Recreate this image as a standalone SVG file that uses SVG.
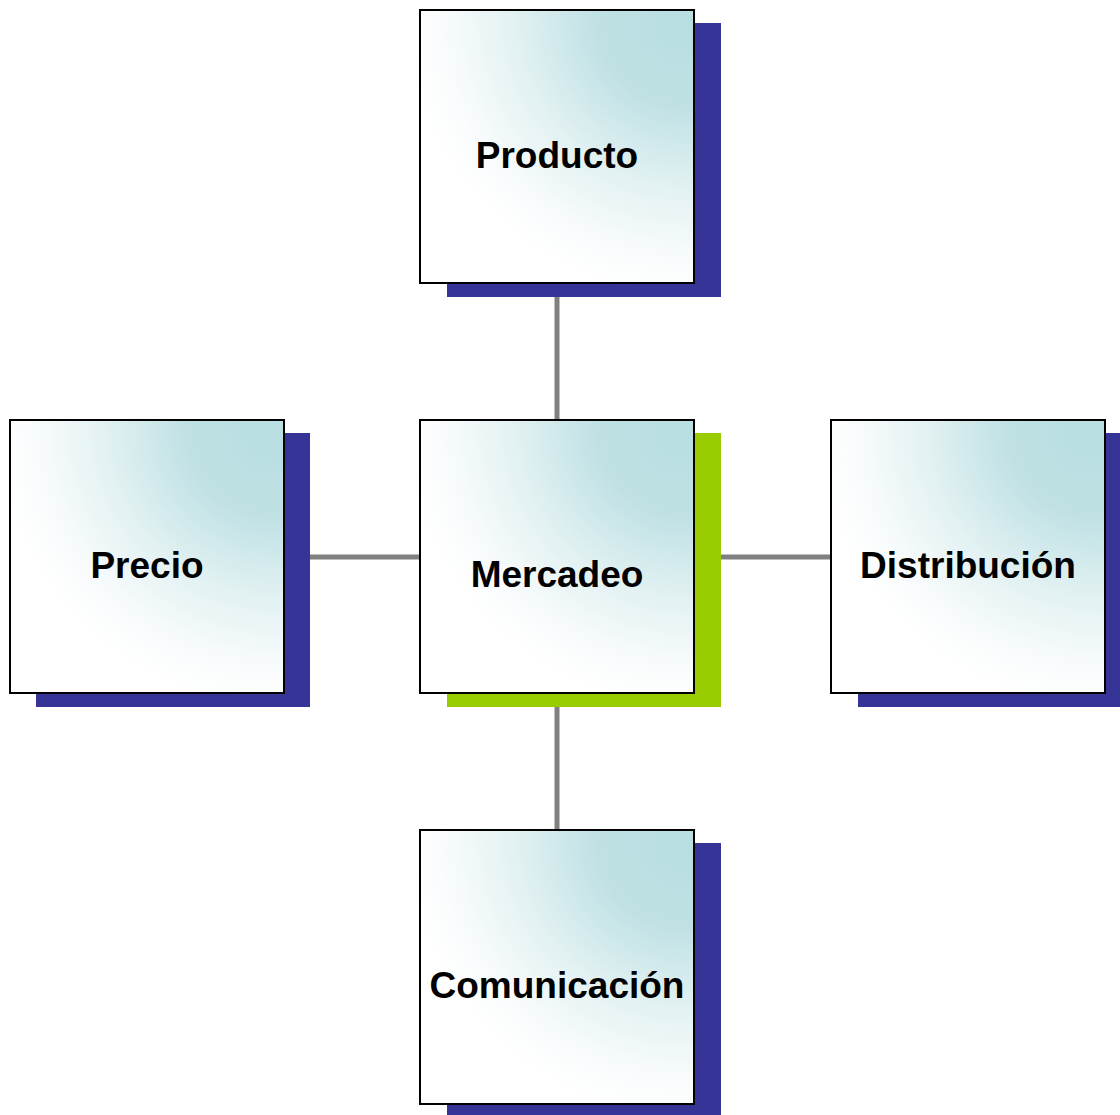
<svg xmlns="http://www.w3.org/2000/svg" width="1120" height="1115" viewBox="0 0 1120 1115">
  <defs>
    <!-- teal glow anchored at the top-right corner, fading to white -->
    <radialGradient id="boxFill" cx="1" cy="0" r="1.05" fx="0.95" fy="0.05">
      <stop offset="0" stop-color="#b8dee1"/>
      <stop offset="0.3" stop-color="#bfe1e4"/>
      <stop offset="0.6" stop-color="#e2f1f2"/>
      <stop offset="0.85" stop-color="#f8fbfc"/>
      <stop offset="1" stop-color="#ffffff"/>
    </radialGradient>
    <style>
      .shadow { fill: #363497; }
      .shadow-main { fill: #99cc00; }
      .box { fill: url(#boxFill); stroke: #000; stroke-width: 2; }
      .label { font-family: "Liberation Sans", Arial, sans-serif; font-weight: bold; font-size: 37px; fill: #000; text-anchor: middle; }
      .link { stroke: #808080; stroke-width: 5; fill: none; }
    </style>
  </defs>
  <rect width="1120" height="1115" fill="#fff"/>

  <g id="connectors">
    <line class="link" x1="557" y1="297" x2="557" y2="420"/>
    <line class="link" x1="557" y1="707" x2="557" y2="830"/>
    <line class="link" x1="310" y1="557" x2="420" y2="557"/>
    <line class="link" x1="721" y1="557" x2="831" y2="557"/>
  </g>

  <g id="producto">
    <rect class="shadow" x="447" y="23" width="274" height="274"/>
    <rect class="box" x="420" y="10" width="274" height="273"/>
    <text class="label" x="557" y="168">Producto</text>
  </g>

  <g id="precio">
    <rect class="shadow" x="36" y="433" width="274" height="274"/>
    <rect class="box" x="10" y="420" width="274" height="273"/>
    <text class="label" x="147" y="578">Precio</text>
  </g>

  <g id="mercadeo">
    <rect class="shadow-main" x="447" y="433" width="274" height="274"/>
    <rect class="box" x="420" y="420" width="274" height="273"/>
    <text class="label" x="557" y="587">Mercadeo</text>
  </g>

  <g id="distribucion">
    <rect class="shadow" x="858" y="433" width="274" height="274"/>
    <rect class="box" x="831" y="420" width="274" height="273"/>
    <text class="label" x="968" y="578">Distribución</text>
  </g>

  <g id="comunicacion">
    <rect class="shadow" x="447" y="843" width="274" height="274"/>
    <rect class="box" x="420" y="830" width="274" height="274"/>
    <text class="label" x="557" y="998">Comunicación</text>
  </g>
</svg>
